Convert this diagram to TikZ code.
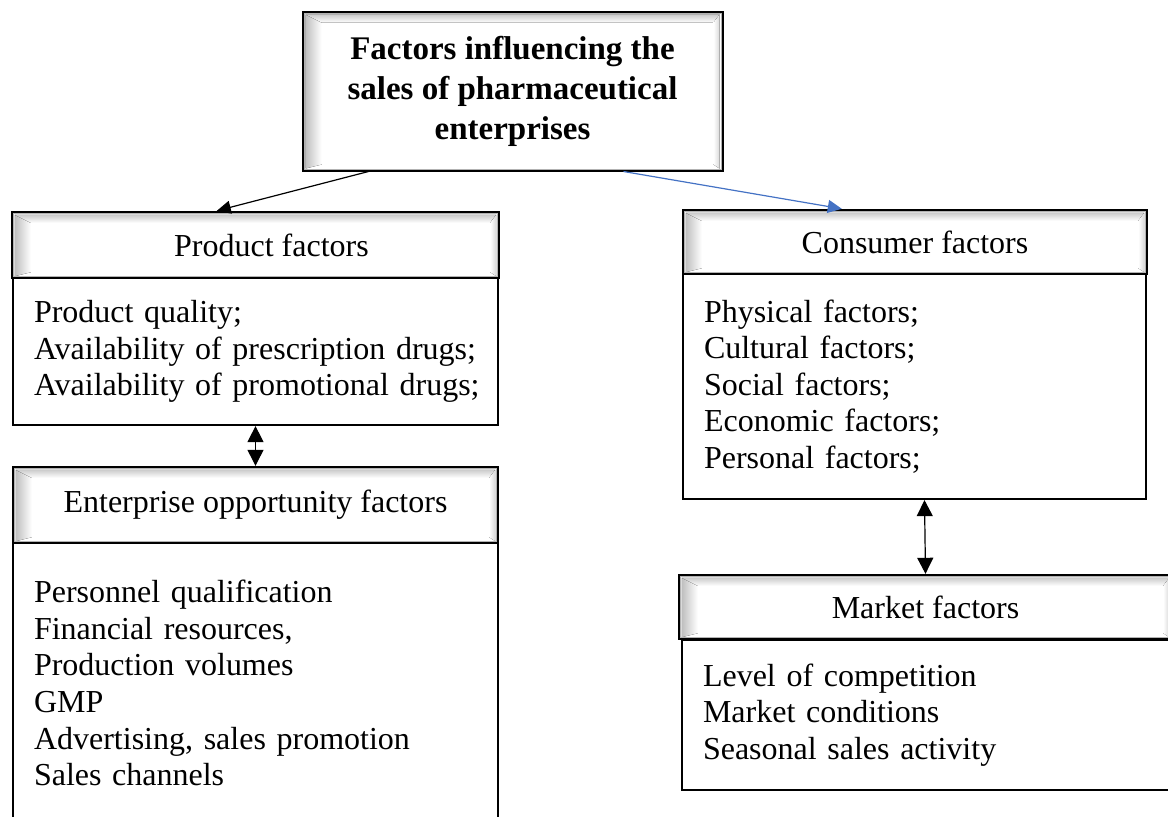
\documentclass[tikz,border=0pt]{standalone}
\usepackage{fontspec}
\setmainfont{Liberation Serif}
\usepackage{tikz}
\usetikzlibrary{arrows.meta}
\definecolor{wordblue}{HTML}{4472C4}
\tikzstyle{title}=[rectangle, draw, line width=1.5pt, fill=white, align=center, font=\fontsize{16.5}{20}\selectfont\bfseries, inner sep=0pt]
\tikzstyle{head}=[rectangle, draw, line width=1.2pt, fill=white, font=\fontsize{16}{19}\selectfont, inner sep=0pt]
\tikzstyle{body}=[rectangle, draw, line width=1.1pt, fill=white, align=left, font=\fontsize{16}{18.3}\selectfont, inner xsep=10.5pt, inner ysep=0pt]
\tikzstyle{link}=[line width=0.6pt, -{Triangle[length=7pt,width=6.5pt]}]
\tikzstyle{twoway}=[line width=0.6pt, {Triangle[length=8pt,width=8pt]}-{Triangle[length=8pt,width=8pt]}]
% gray bevel inside a framed node
\newcommand{\bevelbox}[1]{%
  \fill[left color=gray!50, right color=white]
    ([shift={(2pt,-2pt)}]#1.north west) -- ([shift={(10pt,-6pt)}]#1.north west)
    -- ([shift={(10pt,3.5pt)}]#1.south west) -- ([shift={(2pt,1.5pt)}]#1.south west) -- cycle;
  \fill[top color=gray!40, bottom color=white]
    ([shift={(2pt,-2pt)}]#1.north west) -- ([shift={(-2pt,-2pt)}]#1.north east)
    -- ([shift={(-5pt,-6pt)}]#1.north east) -- ([shift={(10pt,-6pt)}]#1.north west) -- cycle;
  \fill[left color=white, right color=gray!30]
    ([shift={(-5pt,-6pt)}]#1.north east) -- ([shift={(-2pt,-2pt)}]#1.north east)
    -- ([shift={(-2pt,1.5pt)}]#1.south east) -- ([shift={(-5pt,3.5pt)}]#1.south east) -- cycle;
  \draw[gray!60, line width=0.4pt]
    ([shift={(1.3pt,-1.3pt)}]#1.north west) rectangle ([shift={(-1.3pt,1.3pt)}]#1.south east);
}
\begin{document}
\begin{tikzpicture}[x=0.5pt, y=-0.5pt]
    \useasboundingbox (0,0) rectangle (1168,816);
    \node[title, minimum width=209.5pt, minimum height=79pt] (top) at (512.5, 91)
        {Factors influencing the\\sales of pharmaceutical\\enterprises};
    \bevelbox{top}
    \node[head, minimum width=243.5pt, minimum height=33pt] (prodhead) at (255.5, 245) {\hspace*{16pt}Product factors};
    \bevelbox{prodhead}
    \node[body, minimum width=242.5pt, minimum height=73.5pt, text width=221.5pt] (prodbody) at (255.5, 351.5)
        {Product quality;\\\mbox{Availability of prescription drugs;}\\\mbox{Availability of promotional drugs;}};
    \node[head, minimum width=242.5pt, minimum height=38pt] (enthead) at (255.5, 505) {Enterprise opportunity factors};
    \bevelbox{enthead}
    \node[body, minimum width=242.5pt, minimum height=140pt, text width=221.5pt] (entbody) at (255.5, 683)
        {Personnel qualification\\Financial resources,\\Production volumes\\GMP\\Advertising, sales promotion\\Sales channels};
    \node[head, minimum width=232pt, minimum height=32pt] (conshead) at (915, 242) {Consumer factors};
    \bevelbox{conshead}
    \node[body, minimum width=231.5pt, minimum height=112.5pt, text width=210.5pt] (consbody) at (914.5, 386.5)
        {Physical factors;\\Cultural factors;\\Social factors;\\Economic factors;\\Personal factors;};
    \node[head, minimum width=246.5pt, minimum height=32pt] (markhead) at (925.5, 607) {Market factors};
    \bevelbox{markhead}
    \node[body, minimum width=245pt, minimum height=75pt, text width=224pt] (markbody) at (927, 715)
        {Level of competition\\Market conditions\\Seasonal sales activity};
    \draw[link] ([xshift=33.5pt]top.south west) -- ([xshift=103pt]prodhead.north west);
    \draw[link, wordblue] ([xshift=161pt]top.south west) -- ([xshift=80pt]conshead.north west);
    \draw[twoway] (prodbody.south) -- (enthead.north);
    \draw[twoway] ([xshift=5pt]consbody.south) -- (markhead.north);
\end{tikzpicture}
\end{document}
